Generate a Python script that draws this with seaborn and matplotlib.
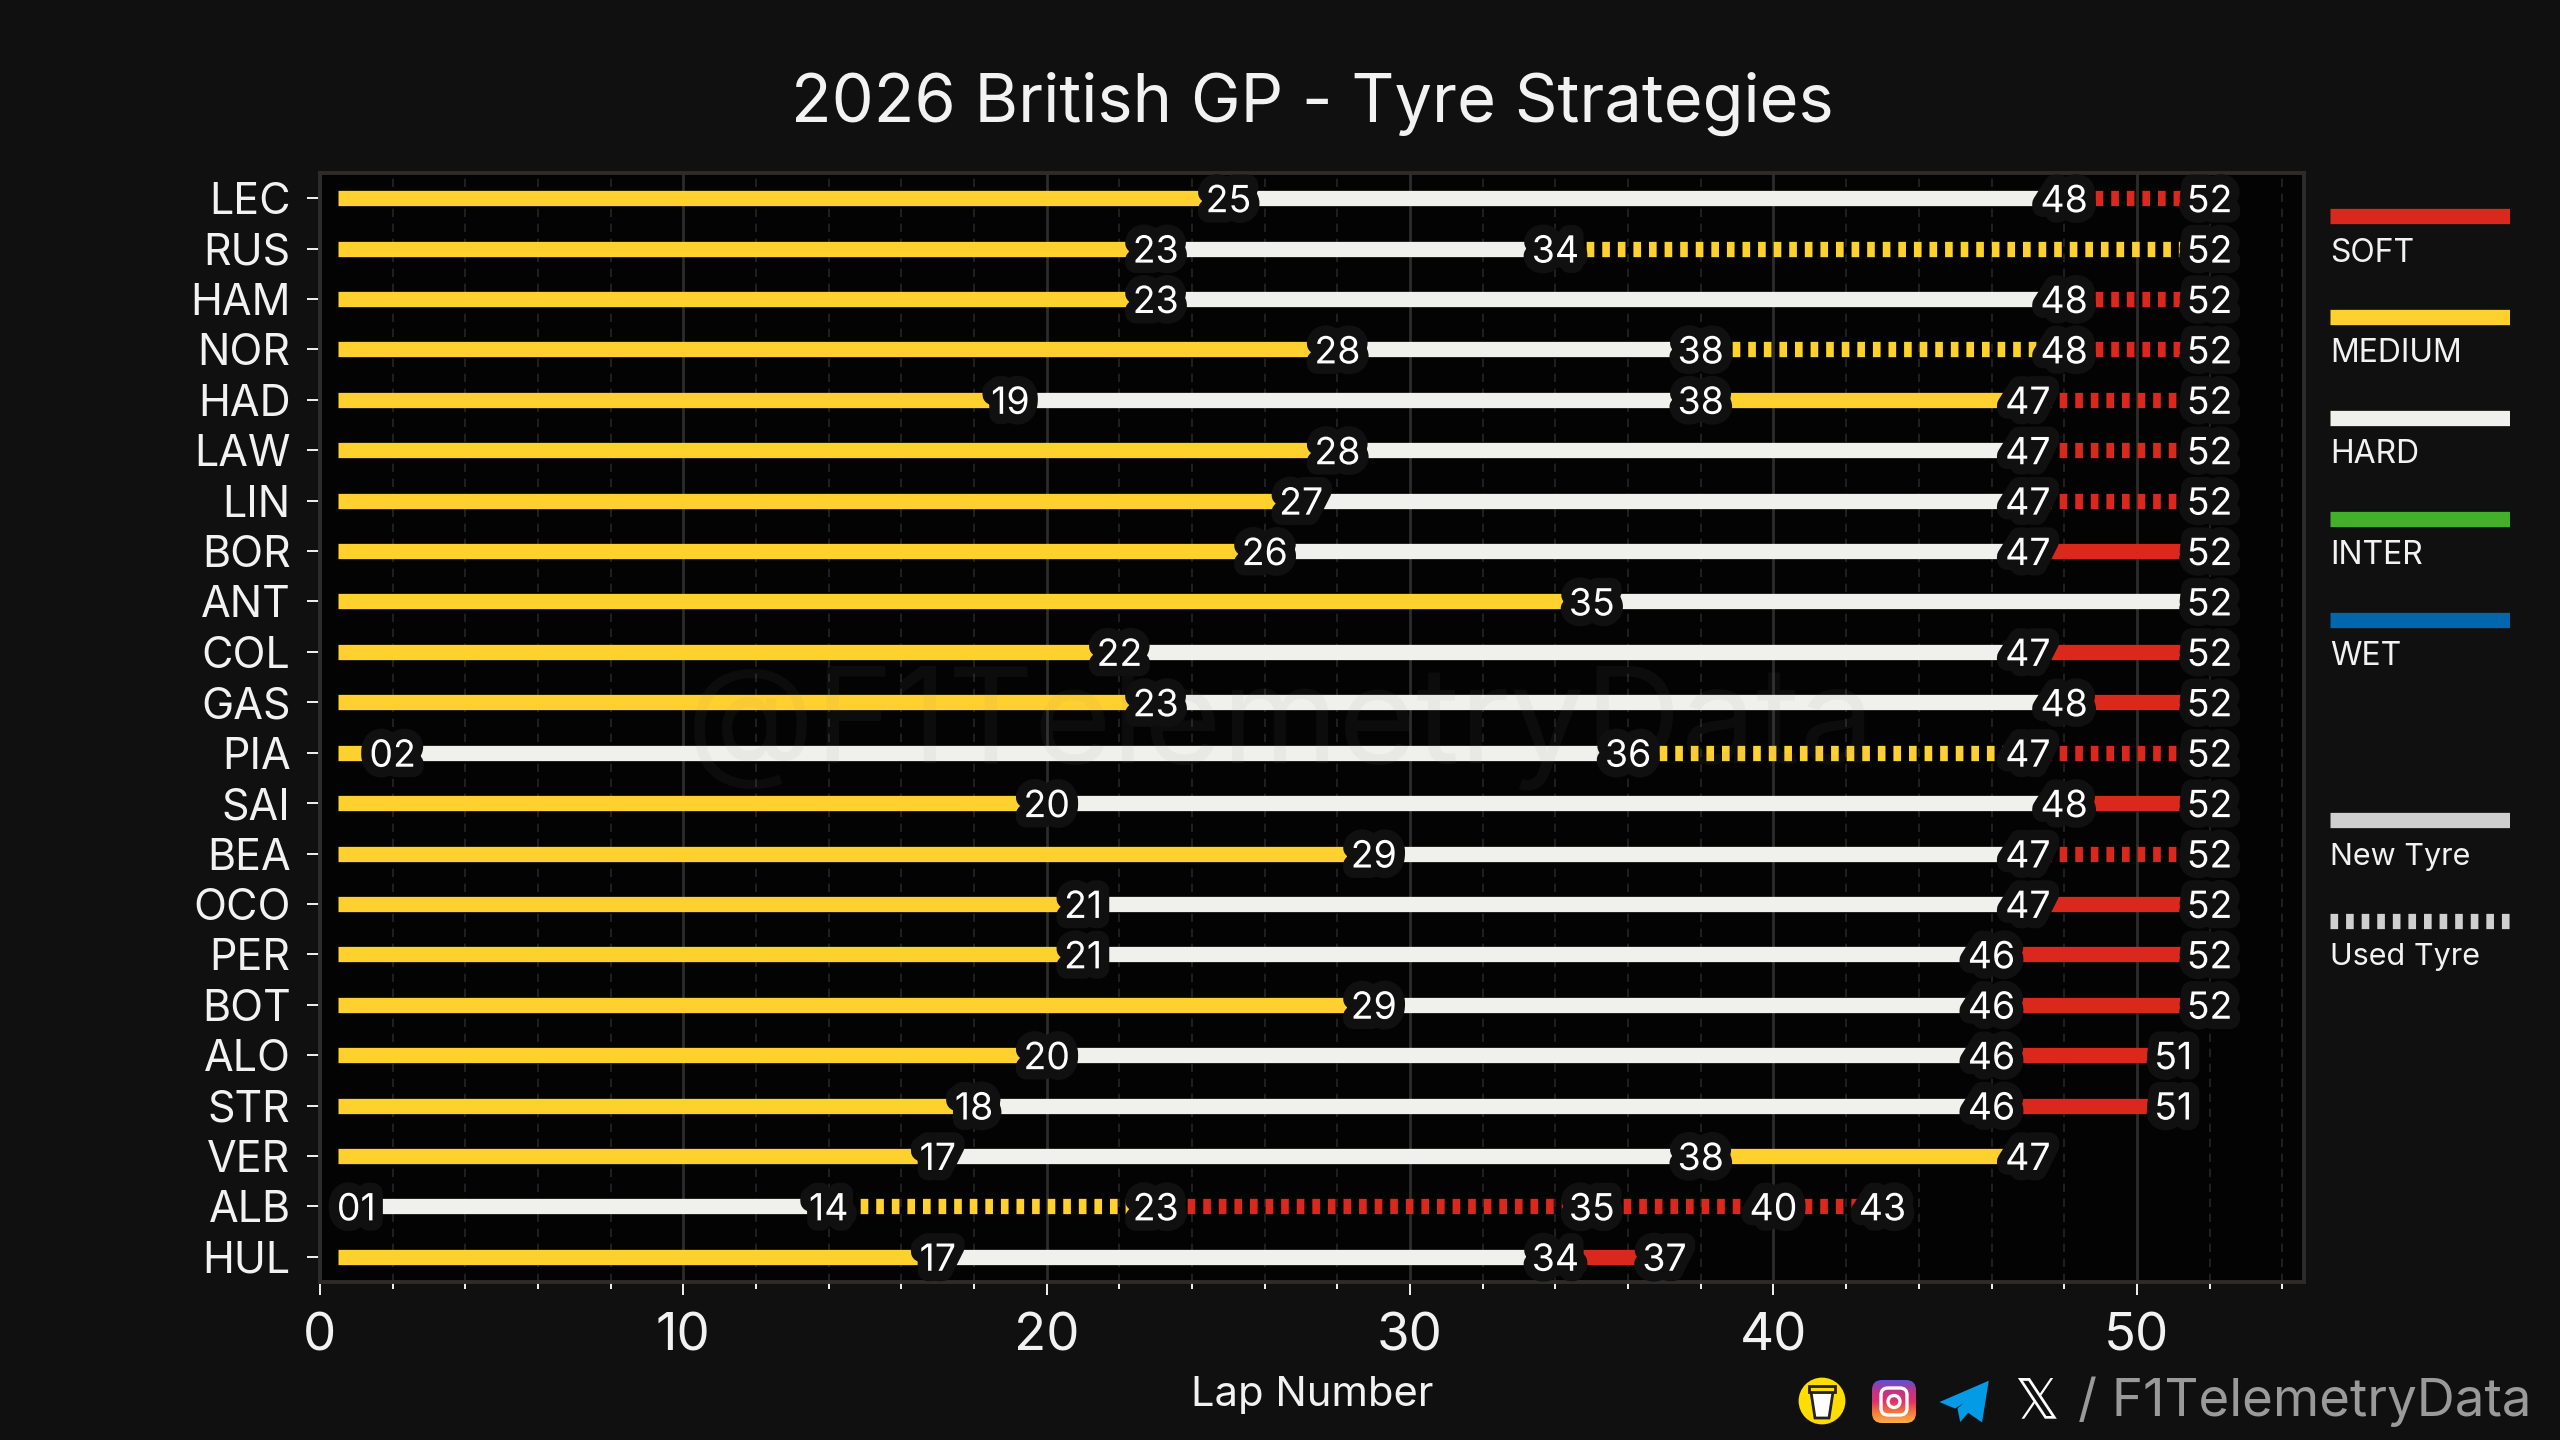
import numpy as np
import pandas as pd
import seaborn as sns
import matplotlib.pyplot as plt
from matplotlib.patches import Ellipse, FancyBboxPatch, Polygon, Circle, Rectangle
from matplotlib.patheffects import withStroke
from matplotlib.ticker import MultipleLocator

drivers = ['LEC', 'RUS', 'HAM', 'NOR', 'HAD', 'LAW', 'LIN', 'BOR', 'ANT', 'COL', 'GAS',
           'PIA', 'SAI', 'BEA', 'OCO', 'PER', 'BOT', 'ALO', 'STR', 'VER', 'ALB', 'HUL']

# lap on which each stint ends
stint_ends = [
    [25, 48, 52], [23, 34, 52], [23, 48, 52], [28, 38, 48, 52], [19, 38, 47, 52],
    [28, 47, 52], [27, 47, 52], [26, 47, 52], [35, 52], [22, 47, 52], [23, 48, 52],
    [2, 36, 47, 52], [20, 48, 52], [29, 47, 52], [21, 47, 52], [21, 46, 52],
    [29, 46, 52], [20, 46, 51], [18, 46, 51], [17, 38, 47],
    [1, 14, 23, 35, 40, 43], [17, 34, 37],
]
stint_compounds = [
    'MHS', 'MHM', 'MHS', 'MHMS', 'MHMS', 'MHS', 'MHS', 'MHS', 'MH', 'MHS', 'MHS',
    'MHMS', 'MHS', 'MHS', 'MHS', 'MHS', 'MHS', 'MHS', 'MHS', 'MHM', 'MHMSSS', 'MHS',
]
# 1 = used set
stint_used = [
    [0, 0, 1], [0, 0, 1], [0, 0, 1], [0, 0, 1, 1], [0, 0, 0, 1], [0, 0, 1], [0, 0, 1],
    [0, 0, 0], [0, 0], [0, 0, 0], [0, 0, 0], [0, 0, 1, 1], [0, 0, 0], [0, 0, 1],
    [0, 0, 0], [0, 0, 0], [0, 0, 0], [0, 0, 0], [0, 0, 0], [0, 0, 0],
    [0, 0, 1, 1, 1, 1], [0, 0, 0],
]

compound_names = {'S': 'SOFT', 'M': 'MEDIUM', 'H': 'HARD'}
compound_colors = {'SOFT': '#da291c', 'MEDIUM': '#ffd12e', 'HARD': '#f0f0ec',
                   'INTER': '#43b02a', 'WET': '#0067ad'}
legend_new_color = '#cfcfcf'

BG = '#101010'
FONT = ['Inter', 'DejaVu Sans']
TEXT = '#f2f2f2'
BAR_LW = 5.5
USED_DASH = (0.5, 0.52)

rows = []
for i, name in enumerate(drivers):
    start = 0.5
    for s, end in enumerate(stint_ends[i]):
        for lap in (start, end):
            rows.append({'row': i, 'stint': s, 'unit': f'{name}{s}', 'lap': lap,
                         'compound': compound_names[stint_compounds[i][s]],
                         'used': bool(stint_used[i][s])})
        start = end
df = pd.DataFrame(rows)

sns.set_style('dark')
plt.rcParams['font.family'] = FONT
plt.rcParams['lines.solid_capstyle'] = 'butt'
plt.rcParams['lines.dash_capstyle'] = 'butt'

fig = plt.figure(figsize=(12.8, 7.2), dpi=200, facecolor=BG)
ax = fig.add_axes([320 / 2560, 1 - 1282 / 1440, 1984 / 2560, 1109 / 1440], facecolor='#030303')

sns.lineplot(data=df, x='lap', y='row', hue='compound', style='used', units='unit',
             estimator=None, sort=False, palette=compound_colors,
             dashes={False: '', True: USED_DASH}, linewidth=BAR_LW, legend=False,
             ax=ax, zorder=3)

ax.set_xlim(0, 54.6)
ax.set_ylim(21.5, -0.5)
ax.set_yticks(range(len(drivers)))
ax.set_yticklabels(drivers)
ax.xaxis.set_major_locator(MultipleLocator(10))
ax.xaxis.set_minor_locator(MultipleLocator(2))
ax.grid(False)
ax.grid(which='major', axis='x', color='#2e2c2b', lw=1.0, zorder=1)
ax.grid(which='minor', axis='x', color='#262524', lw=0.6, ls=(0, (5, 4)), zorder=1)
ax.set_axisbelow(True)
ax.tick_params(axis='x', which='major', length=4.6, width=0.7, color=TEXT, labelsize=19,
               labelcolor=TEXT, pad=6.5, bottom=True)
ax.tick_params(axis='x', which='minor', length=2.4, width=0.7, color=TEXT, bottom=True)
ax.tick_params(axis='y', length=4.6, width=0.7, color=TEXT, labelsize=15.5, labelcolor=TEXT, pad=6,
               left=True)
for sp in ax.spines.values():
    sp.set_color('#2e2c2b')
    sp.set_linewidth(1.4)

ax.set_xlabel('Lap Number', fontsize=15, color=TEXT, labelpad=5)
ax.set_ylabel('')
ax.set_title('2026 British GP - Tyre Strategies', fontsize=24, color=TEXT, pad=0, y=1.046)

# lap labels over the stint joins
for i, ends in enumerate(stint_ends):
    for end in ends:
        ax.text(end, i, f'{end:02d}', color='white', fontsize=13.5, ha='center',
                va='center_baseline', zorder=5,
                path_effects=[withStroke(linewidth=7.5, foreground=BG)])

ax.text(0.484, 0.5, '@F1TelemetryData', transform=ax.transAxes, fontsize=48, color='#888888',
        alpha=0.07, ha='center', va='center', zorder=4)

# compound legend, on the same row scale as the drivers
ax_leg = fig.add_axes([2330 / 2560, 1 - 1282 / 1440, 180 / 2560, 1109 / 1440])
ax_leg.set_xlim(0, 1)
ax_leg.set_ylim(21.5, -0.5)
ax_leg.axis('off')
legend_names = ['SOFT', 'MEDIUM', 'HARD', 'INTER', 'WET']
for k, name in enumerate(legend_names):
    y = 0.36 + 2 * k
    ax_leg.plot([0, 1], [y, y], color=compound_colors[name], lw=BAR_LW)
    ax_leg.text(0, y + 0.66, name, color=TEXT, fontsize=11.5, ha='left', va='center_baseline')
ax_leg.plot([0, 1], [12.34, 12.34], color=legend_new_color, lw=BAR_LW)
ax_leg.text(0, 13.0, 'New Tyre', color=TEXT, fontsize=11, ha='left', va='center_baseline')
ax_leg.plot([0, 1], [14.34, 14.34], color=legend_new_color, lw=BAR_LW, ls=(0, USED_DASH))
ax_leg.text(0, 15.0, 'Used Tyre', color=TEXT, fontsize=11, ha='left', va='center_baseline')

# footer icons and handle, in figure pixels
ax_ft = fig.add_axes([0, 0, 1, 1], facecolor='none')
ax_ft.set_xlim(0, 2560)
ax_ft.set_ylim(1440, 0)
ax_ft.axis('off')

ax_ft.add_patch(Ellipse((1822, 1401), 44, 44, color='#ffdd00'))
ax_ft.add_patch(Polygon([[1811, 1392], [1833, 1392], [1829, 1418], [1815, 1418]], fc='white', ec='#222222', lw=1))
ax_ft.add_patch(Rectangle((1809, 1386), 26, 6, fc='#ffdd00', ec='#222222', lw=1))

grad = np.linspace(0, 1, 64).reshape(-1, 1)
cmap = plt.matplotlib.colors.LinearSegmentedColormap.from_list(
    'ig', ['#5b51d8', '#c13584', '#e1306c', '#f77737', '#fcaf45'])
img = ax_ft.imshow(grad, extent=(1872, 1916, 1423, 1380), cmap=cmap, aspect='auto', zorder=2)
clip = FancyBboxPatch((1876, 1384), 36, 35, boxstyle='round,pad=4,rounding_size=10', fc='none', ec='none')
ax_ft.add_patch(clip)
img.set_clip_path(clip)
ax_ft.add_patch(FancyBboxPatch((1881, 1388), 26, 27, boxstyle='round,pad=0,rounding_size=7',
                               fc='none', ec='white', lw=1.2, zorder=3))
ax_ft.add_patch(Circle((1894, 1401.5), 6, fc='none', ec='white', lw=1.2, zorder=3))

ax_ft.add_patch(Polygon([[1943, 1402], [1987, 1383], [1981, 1420], [1968, 1411], [1961, 1419],
                         [1959, 1409], [1978, 1392], [1955, 1407]], color='#039be5'))
ax_ft.text(2036, 1402, '\U0001D54F', color='white', fontsize=20, ha='center', va='center',
           family='DejaVu Sans')
ax_ft.text(2532, 1402, '/ F1TelemetryData', color='#9a9a9a', fontsize=19, ha='right', va='center')
ax_ft.set_xlim(0, 2560)
ax_ft.set_ylim(1440, 0)

fig.savefig('out.png', dpi=200, facecolor=BG)
